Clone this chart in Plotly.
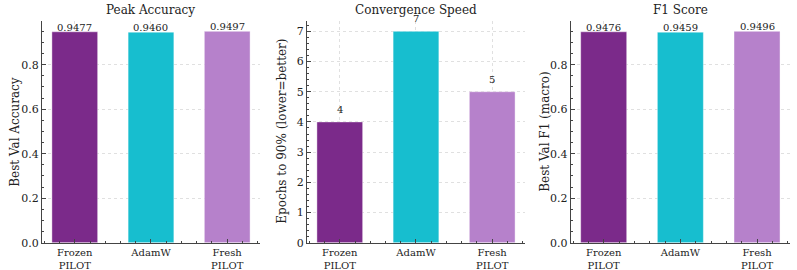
import plotly.graph_objects as go

categories = ["Frozen<br>PILOT", "AdamW", "Fresh<br>PILOT"]
colors = ["#7B2A8A", "#17BECF", "#B681CB"]
accuracy = [0.9477, 0.9460, 0.9497]
epochs = [4, 7, 5]
f1 = [0.9476, 0.9459, 0.9496]
acc_labels = ["0.9477", "0.9460", "0.9497"]
ep_labels = ["4", "7", "5"]
f1_labels = ["0.9476", "0.9459", "0.9496"]

titles = ["Peak Accuracy", "Convergence Speed", "F1 Score"]
ytitles = ["Best Val Accuracy", "Epochs to 90% (lower=better)", "Best Val F1 (macro)"]

FONT = "DejaVu Serif"
xpos = [0, 1, 2]

fig = go.Figure()
domains = [[0.0527, 0.3262], [0.3852, 0.6587], [0.7161, 0.9912]]
ytitle_x = [15 / 797, 282 / 797, 545 / 797]
ydom = [0.101, 0.923]
panels = [
    (accuracy, acc_labels, [0, 0.9497 * 1.05], 0.2, 0.05, ".1f", -3),
    (epochs, ep_labels, [0, 7.35], 1, 0.2, "d", 5),
    (f1, f1_labels, [0, 0.9496 * 1.05], 0.2, 0.05, ".1f", -3),
]
annotations = []
for i, (vals, labs, yr, dt, mdt, fmt, shift) in enumerate(panels):
    n = "" if i == 0 else str(i + 1)
    fig.add_trace(go.Bar(
        x=xpos, y=vals, width=0.6,
        marker=dict(color=colors, line=dict(color="rgba(255,255,255,0.5)", width=0.8)),
        xaxis="x" + n, yaxis="y" + n, showlegend=False, hoverinfo="skip",
    ))
    for xv, yv, t in zip(xpos, vals, labs):
        annotations.append(dict(
            x=xv, y=yv, xref="x" + n, yref="y" + n, text=t, showarrow=False,
            xanchor="center", yanchor="bottom", yshift=shift,
            font=dict(family=FONT, size=10, color="#222"),
        ))
    annotations.append(dict(
        x=(domains[i][0] + domains[i][1]) / 2, y=1.0, xref="paper", yref="paper",
        text=titles[i], showarrow=False, xanchor="center", yanchor="top", yshift=-1,
        font=dict(family=FONT, size=12, color="#222"),
    ))
    annotations.append(dict(
        x=ytitle_x[i], y=(ydom[0] + ydom[1]) / 2, xref="paper", yref="paper",
        text=ytitles[i], showarrow=False, textangle=-90,
        xanchor="center", yanchor="middle",
        font=dict(family=FONT, size=12, color="#222"),
    ))
    common = dict(
        showline=True, linecolor="#444", linewidth=1.2,
        gridcolor="#e0e0e0", griddash="dot", gridwidth=1,
        ticks="inside", ticklen=4, tickcolor="#444",
        zeroline=False, layer="above traces", automargin=False,
    )
    fig.layout["xaxis" + n] = dict(
        domain=domains[i], anchor="y" + n, range=[-0.43, 2.43],
        tickmode="array", tickvals=xpos, ticktext=categories,
        minor=dict(dtick=0.2, tick0=0, ticks="inside", ticklen=2, tickcolor="#444", showgrid=False),
        tickfont=dict(family=FONT, size=10, color="#222"),
        **common,
    )
    fig.layout["yaxis" + n] = dict(
        domain=ydom, anchor="x" + n, range=yr, dtick=dt, tick0=0, tickformat=fmt,
        minor=dict(dtick=mdt, tick0=0, ticks="inside", ticklen=2, tickcolor="#444", showgrid=False),
        tickfont=dict(family=FONT, size=11, color="#222"),
        **common,
    )

fig.update_layout(
    width=797, height=270, margin=dict(l=0, r=0, t=0, b=0),
    paper_bgcolor="white", plot_bgcolor="white", annotations=annotations,
)
fig.write_html("out.html")
